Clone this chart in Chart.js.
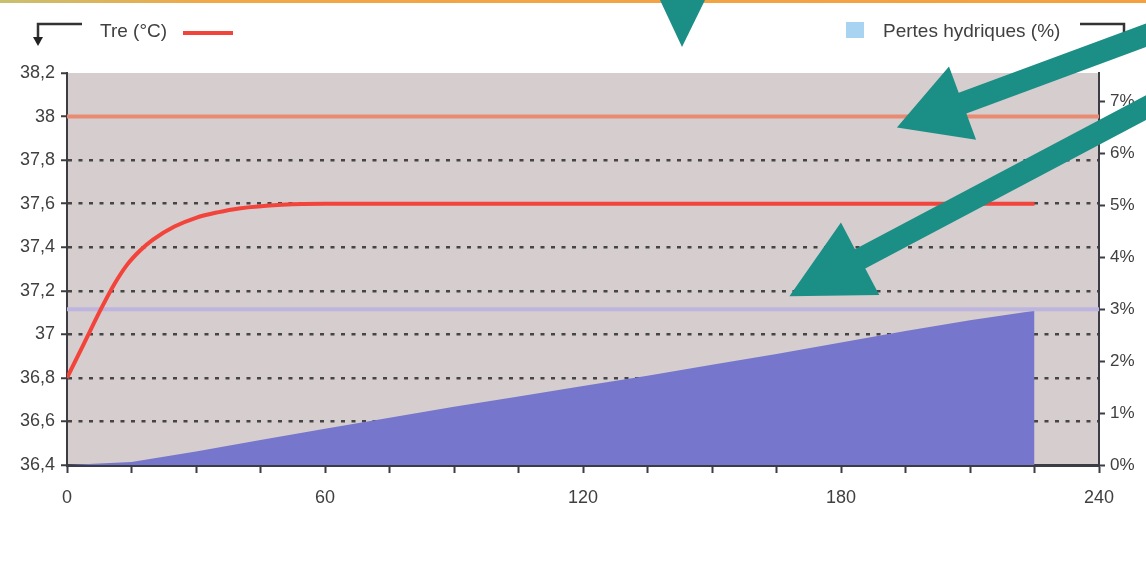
<!DOCTYPE html>
<html>
<head>
<meta charset="utf-8">
<script src="https://cdn.jsdelivr.net/npm/chart.js@4.4.1/dist/chart.umd.min.js"></script>
<style>
  html, body { margin: 0; padding: 0; background: #ffffff; }
  #wrap { position: relative; width: 1146px; height: 571px; }
</style>
</head>
<body>
<div id="wrap"><canvas id="chart"></canvas></div>
<script>
// Time axis (minutes)
const timeTicks = [0, 15, 30, 45, 60, 75, 90, 105, 120, 135, 150, 165, 180, 195, 210, 225, 240];
const timeLabels = [0, 60, 120, 180, 240];

// Core temperature (°C) over time
const tempTimes  = [0, 4, 8, 11, 14, 17, 20, 25, 30, 35, 40, 50, 60, 90, 120, 150, 180, 210, 225];
const tempValues = [36.8, 36.96, 37.12, 37.23, 37.32, 37.385, 37.435, 37.495, 37.535, 37.56, 37.578, 37.595, 37.6, 37.6, 37.6, 37.6, 37.6, 37.6, 37.6];

// Water losses (% of body mass) over time
const lossTimes  = [0, 15, 30, 45, 60, 75, 90, 105, 120, 135, 150, 165, 180, 195, 210, 225];
const lossValues = [0, 0.06, 0.26, 0.48, 0.7, 0.91, 1.12, 1.32, 1.52, 1.72, 1.93, 2.14, 2.36, 2.58, 2.79, 2.97];

// Limits
const tempLimit = 38;
const lossLimit = 3;

// Axis ticks
const tempTicks = [36.4, 36.6, 36.8, 37.0, 37.2, 37.4, 37.6, 37.8, 38.0, 38.2];
const lossTicks = [0, 1, 2, 3, 4, 5, 6, 7];
const tempMin = 36.4, tempMax = 38.2;
const lossMin = 0, lossMax = 7.55;

const FONT = "'Liberation Sans', Arial, sans-serif";
const TEXT = '#404040';
const AXIS = '#3c3c44';

const pts = (xs, ys) => xs.map((x, i) => ({ x: x, y: ys[i] }));

const plotBackground = {
  id: 'plotBackground',
  beforeDraw(chart) {
    const { ctx, chartArea: a } = chart;
    ctx.save();
    ctx.fillStyle = 'rgb(214,205,207)';
    ctx.fillRect(a.left, a.top, a.right - a.left, a.bottom - a.top);
    ctx.restore();
  }
};

function arrow(ctx, tx, ty, hx, hy, w, L, W) {
  const dx = tx - hx, dy = ty - hy;
  const len = Math.hypot(dx, dy);
  const ux = dx / len, uy = dy / len;
  const nx = -uy, ny = ux;
  const bx = hx + ux * L, by = hy + uy * L;
  ctx.beginPath();
  ctx.moveTo(hx, hy);
  ctx.lineTo(bx + nx * W / 2, by + ny * W / 2);
  ctx.lineTo(bx + nx * w / 2, by + ny * w / 2);
  ctx.lineTo(tx + nx * w / 2, ty + ny * w / 2);
  ctx.lineTo(tx - nx * w / 2, ty - ny * w / 2);
  ctx.lineTo(bx - nx * w / 2, by - ny * w / 2);
  ctx.lineTo(bx - nx * W / 2, by - ny * W / 2);
  ctx.closePath();
  ctx.fill();
}

const decorations = {
  id: 'decorations',
  afterDraw(chart) {
    const { ctx } = chart;
    const sx = chart.scales.x, sy = chart.scales.y, sy1 = chart.scales.y1;
    ctx.save();

    // top page rule
    const g = ctx.createLinearGradient(0, 0, chart.width, 0);
    g.addColorStop(0, '#c8c070');
    g.addColorStop(0.18, '#f0a848');
    g.addColorStop(1, '#f4a040');
    ctx.fillStyle = g;
    ctx.fillRect(0, 0, chart.width, 3);

    // legend: temperature
    ctx.strokeStyle = '#333';
    ctx.lineWidth = 2.5;
    ctx.beginPath();
    ctx.moveTo(82, 24); ctx.lineTo(38, 24); ctx.lineTo(38, 38);
    ctx.stroke();
    ctx.fillStyle = '#222';
    ctx.beginPath();
    ctx.moveTo(33, 37); ctx.lineTo(43, 37); ctx.lineTo(38, 46); ctx.closePath();
    ctx.fill();

    ctx.font = '19px ' + FONT;
    ctx.fillStyle = TEXT;
    ctx.textBaseline = 'middle';
    ctx.textAlign = 'left';
    ctx.fillText('Tre (°C)', 100, 32);
    ctx.strokeStyle = '#f2443a';
    ctx.lineWidth = 4;
    ctx.beginPath(); ctx.moveTo(183, 33); ctx.lineTo(233, 33); ctx.stroke();

    // legend: water losses
    ctx.fillStyle = '#a8d4f2';
    ctx.fillRect(846, 22, 18, 16);
    ctx.fillStyle = TEXT;
    ctx.fillText('Pertes hydriques (%)', 883, 32);
    ctx.strokeStyle = '#333';
    ctx.lineWidth = 2.5;
    ctx.beginPath();
    ctx.moveTo(1080, 24); ctx.lineTo(1124, 24); ctx.lineTo(1124, 40);
    ctx.stroke();

    // teal call-out arrows
    ctx.fillStyle = '#1b8e85';
    ctx.beginPath();
    ctx.moveTo(660, 0); ctx.lineTo(705, 0); ctx.lineTo(682, 47); ctx.closePath();
    ctx.fill();

    const t1x = sx.getPixelForValue(193), t1y = sy.getPixelForValue(37.95);
    arrow(ctx, t1x + 270, t1y - 100, t1x, t1y, 22, 70, 78);
    const t2x = sx.getPixelForValue(168), t2y = sy1.getPixelForValue(3.25);
    arrow(ctx, t2x + 380, t2y - 201, t2x, t2y, 22, 80, 82);

    ctx.restore();
  }
};

const fmtTemp = v => String(Math.round(v * 10) / 10).replace('.', ',');

new Chart(document.getElementById('chart'), {
  type: 'line',
  data: {
    datasets: [
      {
        label: 'Tre (°C)',
        data: pts(tempTimes, tempValues),
        yAxisID: 'y',
        borderColor: '#f2443a',
        borderWidth: 4,
        pointRadius: 0,
        cubicInterpolationMode: 'monotone',
        fill: false
      },
      {
        label: 'Seuil température',
        data: pts([0, 240], [tempLimit, tempLimit]),
        yAxisID: 'y',
        borderColor: '#e98a72',
        borderWidth: 4,
        pointRadius: 0,
        fill: false
      },
      {
        label: 'Seuil pertes hydriques',
        data: pts([0, 240], [lossLimit, lossLimit]),
        yAxisID: 'y1',
        borderColor: '#bdb5de',
        borderWidth: 4,
        pointRadius: 0,
        fill: false
      },
      {
        label: 'Pertes hydriques (%)',
        data: pts(lossTimes, lossValues),
        yAxisID: 'y1',
        borderWidth: 0,
        borderColor: 'rgba(0,0,0,0)',
        backgroundColor: 'rgb(118,118,204)',
        pointRadius: 0,
        tension: 0,
        fill: 'origin'
      }
    ]
  },
  options: {
    responsive: true,
    maintainAspectRatio: false,
    animation: false,
    events: [],
    layout: { padding: { top: 73, left: 0, right: 0, bottom: 0 } },
    plugins: { legend: { display: false }, tooltip: { enabled: false } },
    scales: {
      x: {
        type: 'linear',
        min: 0, max: 240,
        afterBuildTicks(s) { s.ticks = timeTicks.map(v => ({ value: v })); },
        afterFit(s) { s.height = 106; },
        border: { display: true, color: AXIS, width: 3 },
        grid: { drawOnChartArea: false, drawTicks: true, tickLength: 8, tickColor: AXIS, tickWidth: 2 },
        ticks: {
          autoSkip: false, maxRotation: 0, padding: 14,
          color: TEXT, font: { family: FONT, size: 18 },
          callback: v => (timeLabels.includes(v) ? String(v) : '')
        }
      },
      y: {
        type: 'linear',
        position: 'left',
        min: tempMin, max: tempMax,
        afterBuildTicks(s) { s.ticks = tempTicks.map(v => ({ value: v })); },
        afterFit(s) { s.width = 67; },
        border: { display: true, color: AXIS, width: 2, dash: [4, 6.5] },
        grid: {
          drawOnChartArea: true,
          color: c => (c.tick && c.tick.value > 36.5 && c.tick.value < 37.9 ? '#454545' : 'rgba(0,0,0,0)'),
          lineWidth: 2.5,
          drawTicks: true, tickLength: 6, tickColor: AXIS, tickWidth: 2, tickBorderDash: []
        },
        ticks: {
          padding: 6, color: TEXT, font: { family: FONT, size: 18 },
          callback: v => fmtTemp(v)
        }
      },
      y1: {
        type: 'linear',
        position: 'right',
        min: lossMin, max: lossMax,
        afterBuildTicks(s) { s.ticks = lossTicks.map(v => ({ value: v })); },
        afterFit(s) { s.width = 47; },
        border: { display: true, color: AXIS, width: 2 },
        grid: { drawOnChartArea: false, drawTicks: true, tickLength: 6, tickColor: AXIS, tickWidth: 2 },
        ticks: {
          padding: 5, color: TEXT, font: { family: FONT, size: 17 },
          callback: v => v + '%'
        }
      }
    }
  },
  plugins: [plotBackground, decorations]
});
</script>
</body>
</html>
